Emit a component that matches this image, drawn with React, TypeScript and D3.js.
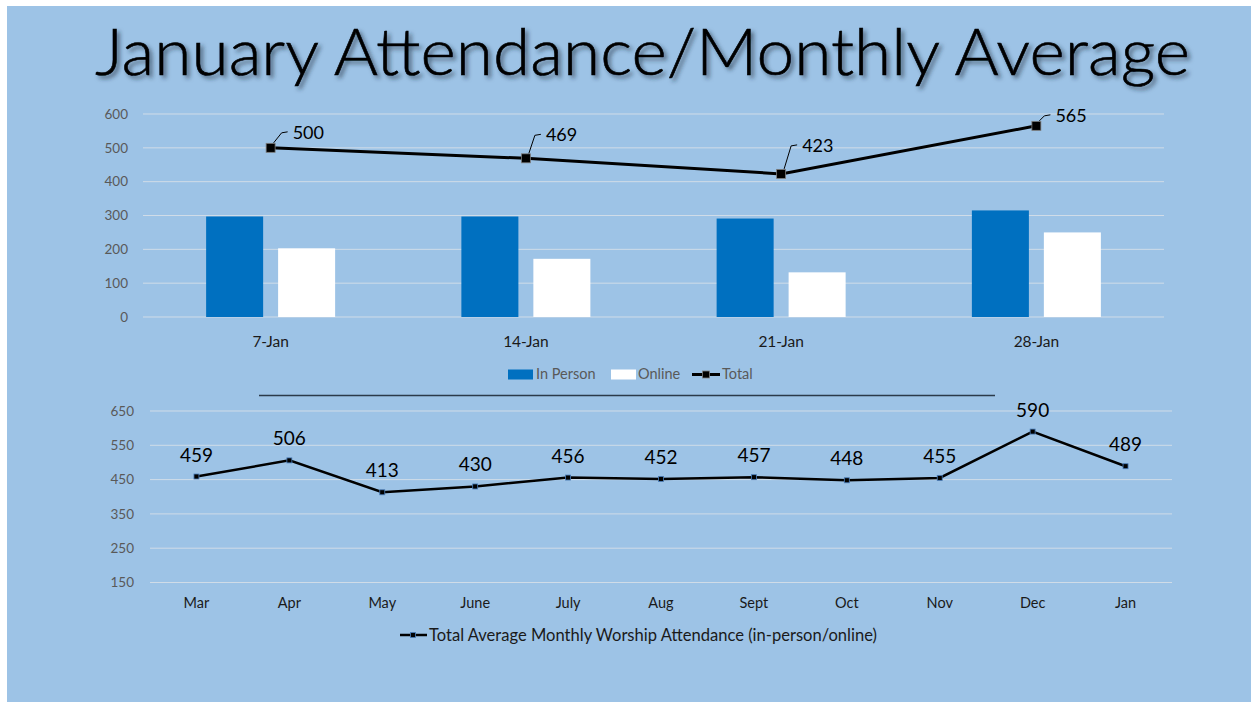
import React from "react";
import * as d3 from "d3";

const W = 1251;
const H = 702;

const weeks = ["7-Jan", "14-Jan", "21-Jan", "28-Jan"];
const inPerson = [297, 297, 291, 315];
const online = [203, 172, 132, 250];
const weeklyTotal = [500, 469, 423, 565];
const topTicks = [0, 100, 200, 300, 400, 500, 600];
// label offsets (dx, dy) of the weekly total data labels, as placed in the original
const totalLabelDx = [22, 20, 21, 19];
const totalLabelDy = [-9, -17, -22, -4];

const months = ["Mar", "Apr", "May", "June", "July", "Aug", "Sept", "Oct", "Nov", "Dec", "Jan"];
const monthlyAvg = [459, 506, 413, 430, 456, 452, 457, 448, 455, 590, 489];
const bottomTicks = [150, 250, 350, 450, 550, 650];

const seriesNames = ["In Person", "Online"];
const FONT = "Lato, 'Open Sans', sans-serif";
const BG = "#9DC3E6";
const GRID = "#D0DCE8";
const BLUE = "#0070C0";

export default function App() {
  // Top chart scales
  const x0 = d3.scaleBand<string>().domain(weeks).range([143, 1164]).padding(0);
  const groupW = 129;
  const x1 = d3.scaleBand<string>().domain(seriesNames).range([0, groupW]).paddingInner(0.208).paddingOuter(0);
  const yTop = d3.scaleLinear().domain([0, 600]).range([317, 114]);
  const cx = (w: string) => (x0(w) as number) + x0.bandwidth() / 2;
  const groupStart = (w: string) => (x0(w) as number) + (x0.bandwidth() - groupW) / 2;

  const lineTop = d3
    .line<number>()
    .x((_, i) => cx(weeks[i]))
    .y((d) => yTop(d));

  // Bottom chart scales
  const xb = d3.scaleBand<string>().domain(months).range([150, 1172]).padding(0);
  const yb = d3.scaleLinear().domain([150, 650]).range([582.5, 411]);
  const bcx = (m: string) => (xb(m) as number) + xb.bandwidth() / 2;
  const lineBottom = d3
    .line<number>()
    .x((_, i) => bcx(months[i]))
    .y((d) => yb(d));

  return (
    <svg width={W} height={H} style={{ position: "absolute", left: 0, top: 0 }} fontFamily={FONT}>
      <defs>
        <filter id="shadow" x="-5%" y="-20%" width="110%" height="150%">
          <feDropShadow dx="3" dy="3" stdDeviation="2" floodColor="#1a2a3a" floodOpacity="0.6" />
        </filter>
      </defs>
      <rect x={0} y={0} width={W} height={H} fill="#ffffff" />
      <rect x={7} y={6} width={W - 7} height={H - 6} fill={BG} />

      {/* Title */}
      <text
        x={95}
        y={75}
        fontSize={66}
        fontWeight={300}
        fill="#000"
        stroke="#000"
        strokeWidth={0.6}
        textLength={1095}
        lengthAdjust="spacingAndGlyphs"
        filter="url(#shadow)"
      >
        January Attendance/Monthly Average
      </text>

      {/* Top chart gridlines */}
      {topTicks.map((t) => (
        <g key={"tt" + t}>
          <line x1={143} x2={1164} y1={yTop(t)} y2={yTop(t)} stroke={GRID} strokeWidth={1} />
          <text x={128} y={yTop(t)} dy="0.35em" textAnchor="end" fontSize={13.5} fill="#595959">
            {t}
          </text>
        </g>
      ))}

      {/* Bars */}
      {weeks.map((w, i) => (
        <g key={"bar" + w}>
          <rect
            x={groupStart(w) + (x1("In Person") as number)}
            y={yTop(inPerson[i])}
            width={x1.bandwidth()}
            height={yTop(0) - yTop(inPerson[i])}
            fill={BLUE}
          />
          <rect
            x={groupStart(w) + (x1("Online") as number)}
            y={yTop(online[i])}
            width={x1.bandwidth()}
            height={yTop(0) - yTop(online[i])}
            fill="#ffffff"
          />
          <text x={cx(w)} y={346.5} textAnchor="middle" fontSize={15.5} fill="#1a1a1a">
            {w}
          </text>
        </g>
      ))}

      {/* Total line */}
      <path d={lineTop(weeklyTotal) as string} fill="none" stroke="#000" strokeWidth={3} />
      {weeklyTotal.map((v, i) => {
        const px = cx(weeks[i]);
        const py = yTop(v);
        const tx = px + totalLabelDx[i];
        const ty = py + totalLabelDy[i];
        return (
          <g key={"tm" + i}>
            <rect x={px - 4.5} y={py - 4.5} width={9} height={9} fill="#000" stroke="#7f7f7f" strokeWidth={0.8} />
            <polyline
              points={`${px + 3},${py - 5} ${tx - 11},${ty - 6} ${tx - 5},${ty - 7}`}
              fill="none"
              stroke="#000"
              strokeWidth={1}
            />
            <text x={tx} y={ty} fontSize={18} fill="#000">
              {v}
            </text>
          </g>
        );
      })}

      {/* Top legend */}
      <g fontSize={14.5} fill="#595959">
        <rect x={508} y={369.5} width={25} height={10} fill={BLUE} />
        <text x={536} y={379}>In Person</text>
        <rect x={611} y={369.5} width={25} height={10} fill="#fff" />
        <text x={638} y={379}>Online</text>
        <line x1={692} x2={720} y1={374.5} y2={374.5} stroke="#000" strokeWidth={3} />
        <rect x={702.5} y={371} width={7} height={7} fill="#000" stroke="#7f7f7f" strokeWidth={0.8} />
        <text x={722} y={379}>Total</text>
      </g>

      {/* Separator */}
      <line x1={259} x2={995} y1={395.5} y2={395.5} stroke="#2b3a4a" strokeWidth={1.3} />

      {/* Bottom chart */}
      {bottomTicks.map((t) => (
        <g key={"bt" + t}>
          <line x1={150} x2={1172} y1={yb(t)} y2={yb(t)} stroke={GRID} strokeWidth={1} />
          <text x={134} y={yb(t)} dy="0.35em" textAnchor="end" fontSize={13.5} fill="#595959">
            {t}
          </text>
        </g>
      ))}
      {months.map((m) => (
        <text key={"ml" + m} x={bcx(m)} y={608} textAnchor="middle" fontSize={14.5} fill="#1a1a1a">
          {m}
        </text>
      ))}
      <path d={lineBottom(monthlyAvg) as string} fill="none" stroke="#000" strokeWidth={2.5} />
      {monthlyAvg.map((v, i) => {
        const px = bcx(months[i]);
        const py = yb(v);
        return (
          <g key={"bm" + i}>
            <rect x={px - 2.5} y={py - 2.5} width={5} height={5} fill="#000" stroke="#4a7ebb" strokeWidth={0.8} />
            <text x={px} y={py - 15} textAnchor="middle" fontSize={19} fill="#000">
              {v}
            </text>
          </g>
        );
      })}

      {/* Bottom legend */}
      <line x1={400} x2={427} y1={635} y2={635} stroke="#000" strokeWidth={2.5} />
      <rect x={410.5} y={632.5} width={5} height={5} fill="#000" stroke="#4a7ebb" strokeWidth={0.8} />
      <text x={429} y={641} fontSize={16.5} fill="#1a1a1a" textLength={448} lengthAdjust="spacingAndGlyphs">
        Total Average Monthly Worship Attendance (in-person/online)
      </text>
    </svg>
  );
}
